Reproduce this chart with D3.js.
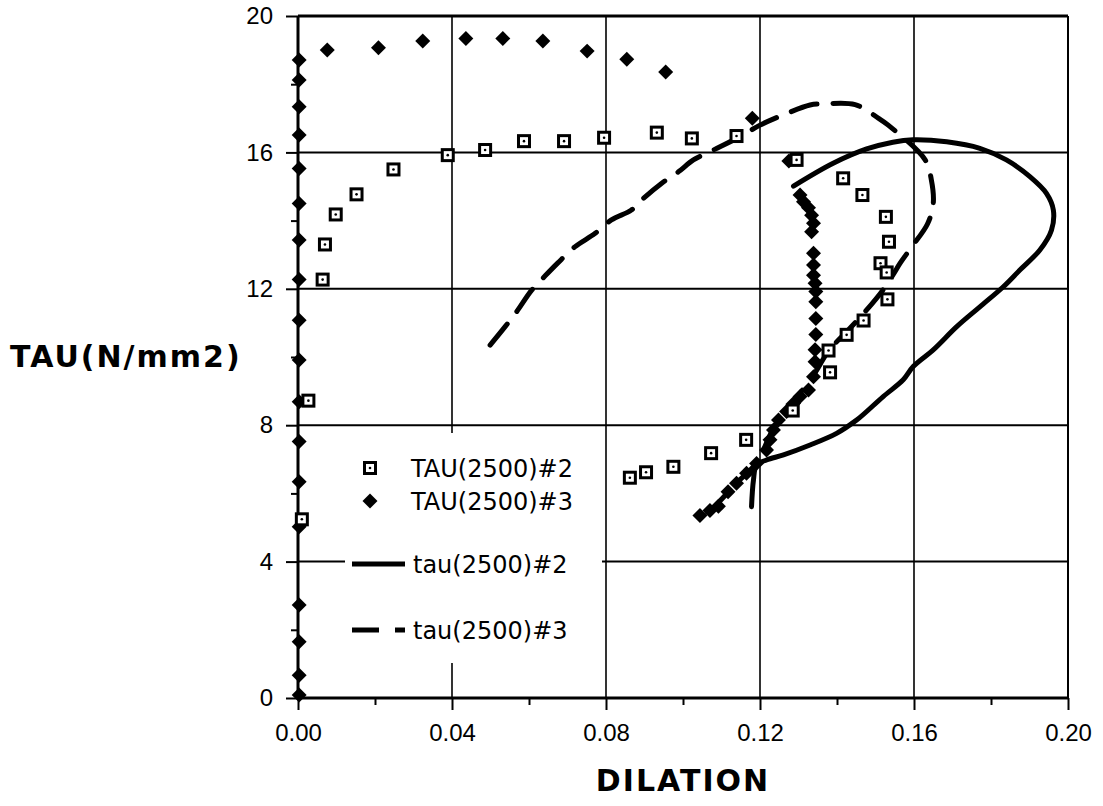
<!DOCTYPE html>
<html>
<head>
<meta charset="utf-8">
<script src="https://cdn.jsdelivr.net/npm/d3@7"></script>
<style>
  html, body { margin: 0; padding: 0; background: #fff; }
  svg { display: block; font-family: "DejaVu Sans", Verdana, sans-serif; }
  .tick text { font-size: 24px; fill: #000; }
  .axis path { display: none; }
</style>
</head>
<body>
<div id="chart"></div>
<script>
// tick values
const xMajor = [0, 0.04, 0.08, 0.12, 0.16, 0.20];
const xMinor = [0.02, 0.06, 0.10, 0.14, 0.18];
const yMajor = [0, 4, 8, 12, 16, 20];
const yMinor = [2, 6, 10, 14, 18];

// TAU(2500)#2 - open squares
const sq2X = [0.001, 0.0027, 0.0064, 0.007, 0.0098, 0.0152, 0.0248, 0.0389, 0.0486, 0.0587, 0.0691,
  0.0795, 0.0932, 0.1023, 0.1139, 0.1295, 0.1416, 0.1466, 0.1527, 0.1535, 0.1513, 0.1529, 0.1531,
  0.1469, 0.1425, 0.1378, 0.1382, 0.1285, 0.1164, 0.1073, 0.0975, 0.0904, 0.0862];
const sq2Y = [5.24, 8.72, 12.27, 13.3, 14.18, 14.77, 15.5, 15.92, 16.07, 16.33, 16.33,
  16.43, 16.58, 16.41, 16.48, 15.78, 15.24, 14.75, 14.11, 13.38, 12.75, 12.48, 11.69,
  11.07, 10.65, 10.19, 9.55, 8.43, 7.57, 7.18, 6.78, 6.62, 6.46];

// TAU(2500)#3 - diamonds
const dm3X = [0.0003, 0.0003, 0.0003, 0.0003, 0.0003, 0.0003, 0.0003, 0.0003, 0.0003,
  0.0003, 0.0003, 0.0003, 0.0003, 0.0003, 0.0003, 0.0003, 0.0003, 0.0003,
  0.0076, 0.0209, 0.0324, 0.0436, 0.0532, 0.0636, 0.0751, 0.0854, 0.0955,
  0.118, 0.1275,
  0.1304, 0.1313, 0.1326, 0.1334, 0.1339, 0.1334, 0.1339, 0.1339, 0.1339, 0.1343, 0.1345,
  0.1345, 0.1345, 0.1345, 0.1343, 0.1343, 0.1339, 0.1326, 0.1304, 0.1287, 0.1269, 0.1248,
  0.1235, 0.1226, 0.1217, 0.1191, 0.1165, 0.1139, 0.1117, 0.1092, 0.107, 0.1044];
const dm3Y = [0.09, 0.67, 1.65, 2.73, 5.02, 6.34, 7.52, 8.69, 9.91,
  11.08, 12.27, 13.43, 14.5, 15.53, 16.51, 17.34, 18.12, 18.71,
  19.0, 19.07, 19.27, 19.34, 19.34, 19.27, 18.97, 18.73, 18.36,
  17.0, 15.75,
  14.75, 14.55, 14.38, 14.16, 13.92, 13.67, 13.04, 12.7, 12.4, 12.16, 11.92,
  11.62, 11.13, 10.66, 10.21, 9.86, 9.42, 9.03, 8.84, 8.64, 8.4, 8.15,
  7.86, 7.57, 7.27, 6.88, 6.59, 6.3, 6.05, 5.62, 5.5, 5.35];

// tau(2500)#2 - solid curve
const ln2X = [0.1178, 0.1183, 0.1191, 0.1217, 0.1261, 0.133, 0.1399, 0.1451, 0.152, 0.1572,
  0.1598, 0.165, 0.1711, 0.1771, 0.1832, 0.1875, 0.1927, 0.1957, 0.1962, 0.1944, 0.1901,
  0.184, 0.1771, 0.1685, 0.1597, 0.1545, 0.1477, 0.139, 0.1287];
const ln2Y = [5.61, 6.39, 6.83, 6.98, 7.13, 7.42, 7.76, 8.15, 8.84, 9.33,
  9.72, 10.21, 10.89, 11.47, 12.06, 12.55, 13.14, 13.72, 14.31, 14.8, 15.29,
  15.78, 16.12, 16.31, 16.37, 16.3, 16.1, 15.68, 15.01];

// tau(2500)#3 - dashed curve
const ln3X = [0.0499, 0.0538, 0.0568, 0.0607, 0.0642, 0.0675, 0.0719, 0.0771, 0.0814, 0.0866,
  0.0897, 0.0944, 0.0988, 0.1027, 0.1079, 0.1148, 0.12, 0.1269, 0.133, 0.1364, 0.1447,
  0.1508, 0.1533, 0.1629, 0.1645, 0.165, 0.1635, 0.1594, 0.1564, 0.1545, 0.1519, 0.1477,
  0.143, 0.138, 0.1335, 0.128, 0.1235, 0.1191, 0.1139, 0.108, 0.105];
const ln3Y = [10.35, 10.89, 11.33, 11.96, 12.38, 12.76, 13.23, 13.62, 14.02, 14.31,
  14.65, 15.09, 15.43, 15.78, 16.07, 16.46, 16.8, 17.14, 17.39, 17.42, 17.4,
  17.0, 16.8, 15.78, 15.2, 14.5, 13.9, 13.23, 12.75, 12.4, 11.96, 11.38,
  10.8, 10.2, 9.4, 8.6, 7.9, 6.9, 6.3, 5.6, 5.35];

const legendLabels = ['TAU(2500)#2', 'TAU(2500)#3', 'tau(2500)#2', 'tau(2500)#3'];

const W = 1103, H = 806;
const margin = { top: 16, right: 35, bottom: 108, left: 298 };
const w = W - margin.left - margin.right;
const h = H - margin.top - margin.bottom;

const svg = d3.select('#chart').append('svg').attr('width', W).attr('height', H);
const g = svg.append('g').attr('transform', `translate(${margin.left},${margin.top})`);

const x = d3.scaleLinear().domain([0, 0.2]).range([0, w]);
const y = d3.scaleLinear().domain([0, 20]).range([h, 0]);

// grid
g.selectAll('.vgrid').data(xMajor.slice(1, -1)).join('line')
  .attr('x1', d => x(d)).attr('x2', d => x(d)).attr('y1', 0).attr('y2', h)
  .attr('stroke', '#000').attr('stroke-width', 1.6);
g.selectAll('.hgrid').data(yMajor.slice(1, -1)).join('line')
  .attr('x1', 0).attr('x2', w).attr('y1', d => y(d)).attr('y2', d => y(d))
  .attr('stroke', '#000').attr('stroke-width', 2);

// frame
g.append('line').attr('x1', 0).attr('x2', w).attr('y1', 0).attr('y2', 0).attr('stroke', '#000').attr('stroke-width', 3);
g.append('line').attr('x1', w).attr('x2', w).attr('y1', 0).attr('y2', h).attr('stroke', '#000').attr('stroke-width', 2);
g.append('line').attr('x1', 0).attr('x2', w).attr('y1', h).attr('y2', h).attr('stroke', '#000').attr('stroke-width', 3);
g.append('line').attr('x1', 0).attr('x2', 0).attr('y1', 0).attr('y2', h).attr('stroke', '#000').attr('stroke-width', 3);

// axes
const xAxis = g.append('g').attr('class', 'axis').attr('transform', `translate(0,${h})`)
  .call(d3.axisBottom(x).tickValues(xMajor).tickFormat(d3.format('.2f')).tickSize(12).tickPadding(14));
g.append('g').attr('class', 'axis').attr('transform', `translate(0,${h})`)
  .call(d3.axisBottom(x).tickValues(xMinor).tickFormat('').tickSize(7));
g.append('g').attr('class', 'axis')
  .call(d3.axisLeft(y).tickValues(yMajor).tickFormat(d3.format('d')).tickSize(12).tickPadding(13));
g.append('g').attr('class', 'axis')
  .call(d3.axisLeft(y).tickValues(yMinor).tickFormat('').tickSize(7));
g.selectAll('.axis .tick line').attr('stroke', '#000').attr('stroke-width', 2);

// lines
const line = d3.line().x(d => x(d[0])).y(d => y(d[1])).curve(d3.curveCatmullRom);
const ln2 = ln2X.map((v, i) => [v, ln2Y[i]]);
const ln3 = ln3X.map((v, i) => [v, ln3Y[i]]);

g.append('path').datum(ln3).attr('d', line)
  .attr('fill', 'none').attr('stroke', '#000').attr('stroke-width', 5)
  .attr('stroke-dasharray', '27,16').attr('stroke-linecap', 'round');
g.append('path').datum(ln2).attr('d', line)
  .attr('fill', 'none').attr('stroke', '#000').attr('stroke-width', 5)
  .attr('stroke-linecap', 'round').attr('stroke-linejoin', 'round');

// markers
const diamond = d3.symbol(d3.symbolSquare, 112)();
const dm3 = dm3X.map((v, i) => [v, dm3Y[i]]);
const sq2 = sq2X.map((v, i) => [v, sq2Y[i]]);

g.selectAll('.dm').data(dm3).join('path').attr('class', 'dm')
  .attr('d', diamond)
  .attr('transform', d => `translate(${x(d[0])},${y(d[1])}) rotate(45)`)
  .attr('fill', '#000');

function drawSquare(sel) {
  sel.append('rect').attr('x', -5.5).attr('y', -5.5).attr('width', 11).attr('height', 11)
    .attr('fill', '#fff').attr('stroke', '#000').attr('stroke-width', 3);
  sel.append('circle').attr('r', 1.3).attr('fill', '#000');
}
g.selectAll('.sq').data(sq2).join('g').attr('class', 'sq')
  .attr('transform', d => `translate(${x(d[0])},${y(d[1])})`)
  .call(drawSquare);

// legend
const lg = svg.append('g');
lg.append('rect').attr('x', 345).attr('y', 433).attr('width', 257).attr('height', 230).attr('fill', '#fff');
const rowY = [468, 501, 564, 630];
lg.append('g').attr('transform', `translate(370,${rowY[0]})`).call(drawSquare);
lg.append('path').attr('d', diamond).attr('transform', `translate(370,${rowY[1]}) rotate(45)`).attr('fill', '#000');
lg.append('line').attr('x1', 352).attr('x2', 405).attr('y1', rowY[2]).attr('y2', rowY[2])
  .attr('stroke', '#000').attr('stroke-width', 5);
lg.append('line').attr('x1', 352).attr('x2', 405).attr('y1', rowY[3]).attr('y2', rowY[3])
  .attr('stroke', '#000').attr('stroke-width', 5).attr('stroke-dasharray', '27,16');
lg.selectAll('text').data(legendLabels).join('text')
  .attr('x', (d, i) => i < 2 ? 411 : 413)
  .attr('y', (d, i) => rowY[i])
  .attr('dy', '0.36em')
  .attr('font-size', 24)
  .text(d => d);

// axis titles
svg.append('text').attr('x', 10).attr('y', 367)
  .attr('font-size', 30).attr('font-weight', 'bold').attr('letter-spacing', 2)
  .text('TAU(N/mm2)');
svg.append('text').attr('x', margin.left + w / 2).attr('y', 791)
  .attr('text-anchor', 'middle')
  .attr('font-size', 30).attr('font-weight', 'bold').attr('letter-spacing', 2)
  .text('DILATION');
</script>
</body>
</html>
